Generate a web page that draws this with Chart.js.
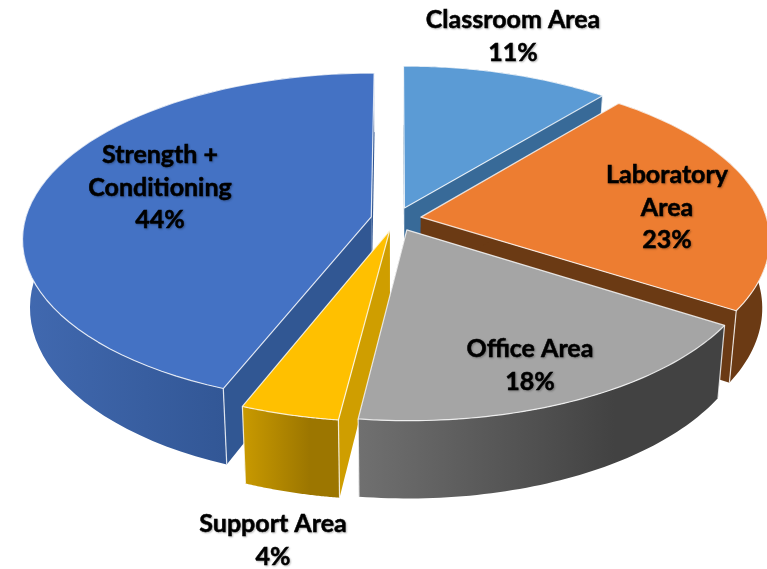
<!DOCTYPE html>
<html lang="en">
<head>
<meta charset="UTF-8" />
<title>Area breakdown</title>
<script src="https://cdn.jsdelivr.net/npm/chart.js@4"></script>
<style>
    body { margin: 0; background: #fff; }
    #wrap { width: 767px; height: 569px; }
</style>
</head>
<body>
<div id="wrap"><canvas id="pie" width="767" height="569"></canvas></div>
<script>
    // data
    const categories = ["Classroom Area", "Laboratory Area", "Office Area", "Support Area", "Strength + Conditioning"];
    const values = [11, 23, 18, 4, 44];
    const labelLines = [["Classroom Area"], ["Laboratory", "Area"], ["Office Area"], ["Support Area"], ["Strength +", "Conditioning"]];

    // colours
    const topColors = ["#5b9bd5", "#ed7d31", "#a5a5a5", "#ffc000", "#4472c4"];
    const sideColors = ["#386a98", "#6b3a14", "#4a4a4a", "#cf9e00", "#315793"];
    const wallLeft = ["#386a98", "#6b3a14", "#707070", "#c99a00", "#4169b0"];
    const wallRight = ["#386a98", "#6b3a14", "#424242", "#9c7600", "#2f5390"];

    // label anchors, centre of first line
    const labelPos = [[513, 20], [667, 175], [530, 349], [273, 524], [160, 155]];
    const lineGap = 32.5;

    // back to front
    const drawOrder = [0, 1, 4, 3, 2];

    // perspective of the disc
    const view = { cx: 396, cy: 219, rx: 346, ry: 163, persp: 0.13, depth: 67, shrink: 0.02 };

    function project(u, v, z) {
        const k = 1 / (1 - view.persp * v);
        return {
            x: view.cx + view.rx * u * k * (1 - view.shrink * z),
            y: view.cy + (view.ry * v + view.depth * z) * k
        };
    }

    // point of an arc element at radius fraction r and angle a, in disc units
    function discPoint(el, a, r) {
        const mid = (el.startAngle + el.endAngle) / 2;
        const off = el.options.offset / el.outerRadius;
        return { u: off * Math.cos(mid) + r * Math.cos(a), v: off * Math.sin(mid) + r * Math.sin(a) };
    }

    function arcPoints(el, z) {
        const pts = [];
        const steps = 60;
        for (let i = 0; i <= steps; i++) {
            const a = el.startAngle + (el.endAngle - el.startAngle) * i / steps;
            const p = discPoint(el, a, 1);
            pts.push(project(p.u, p.v, z));
        }
        return pts;
    }

    function fillPoly(ctx, pts, fill) {
        ctx.beginPath();
        pts.forEach((p, i) => i ? ctx.lineTo(p.x, p.y) : ctx.moveTo(p.x, p.y));
        ctx.closePath();
        ctx.fillStyle = fill;
        ctx.fill();
    }

    function drawSlice(ctx, el, i) {
        const c = discPoint(el, el.startAngle, 0);
        const apexTop = project(c.u, c.v, 0);
        const apexLow = project(c.u, c.v, 1);
        const top = arcPoints(el, 0);
        const low = arcPoints(el, 1);
        const last = top.length - 1;

        // straight walls
        fillPoly(ctx, [apexTop, top[last], low[last], apexLow], sideColors[i]);
        fillPoly(ctx, [apexTop, top[0], low[0], apexLow], sideColors[i]);

        // outer wall
        const xs = top.map(p => p.x);
        const grad = ctx.createLinearGradient(Math.min(...xs), 0, Math.max(...xs), 0);
        grad.addColorStop(0, wallLeft[i]);
        grad.addColorStop(0.7, wallRight[i]);
        grad.addColorStop(1, wallRight[i]);
        fillPoly(ctx, top.concat(low.slice().reverse()), grad);

        // light corner edges
        ctx.strokeStyle = "rgba(255,255,255,0.8)";
        ctx.lineWidth = 1.2;
        [0, last].forEach(j => {
            ctx.beginPath();
            ctx.moveTo(top[j].x, top[j].y);
            ctx.lineTo(low[j].x, low[j].y);
            ctx.stroke();
        });

        // top face
        const face = [apexTop].concat(top);
        fillPoly(ctx, face, topColors[i]);
        ctx.stroke();
    }

    const pie3d = {
        id: "pie3d",
        beforeDatasetDraw(chart) {
            const ctx = chart.ctx;
            const arcs = chart.getDatasetMeta(0).data;
            ctx.save();
            ctx.lineJoin = "round";
            drawOrder.forEach(i => drawSlice(ctx, arcs[i], i));
            ctx.restore();
            return false;
        },
        afterDraw(chart) {
            const ctx = chart.ctx;
            ctx.save();
            ctx.font = "bold 25px Lato, sans-serif";
            ctx.textAlign = "center";
            ctx.textBaseline = "middle";
            ctx.fillStyle = "#000";
            ctx.strokeStyle = "#000";
            ctx.lineWidth = 0.5;
            ctx.shadowColor = "rgba(0,0,0,0.25)";
            ctx.shadowBlur = 2;
            ctx.shadowOffsetX = 1;
            ctx.shadowOffsetY = 1;
            labelLines.forEach((lines, i) => {
                const rows = lines.concat(values[i] + "%");
                rows.forEach((t, j) => {
                    ctx.fillText(t, labelPos[i][0], labelPos[i][1] + j * lineGap);
                    ctx.strokeText(t, labelPos[i][0], labelPos[i][1] + j * lineGap);
                });
            });
            ctx.restore();
        }
    };

    new Chart(document.getElementById("pie"), {
        type: "pie",
        data: {
            labels: categories,
            datasets: [{ data: values, backgroundColor: topColors, offset: 20, borderWidth: 0 }]
        },
        options: {
            responsive: false,
            animation: false,
            plugins: { legend: { display: false }, tooltip: { enabled: false } }
        },
        plugins: [pie3d]
    });
</script>
</body>
</html>
